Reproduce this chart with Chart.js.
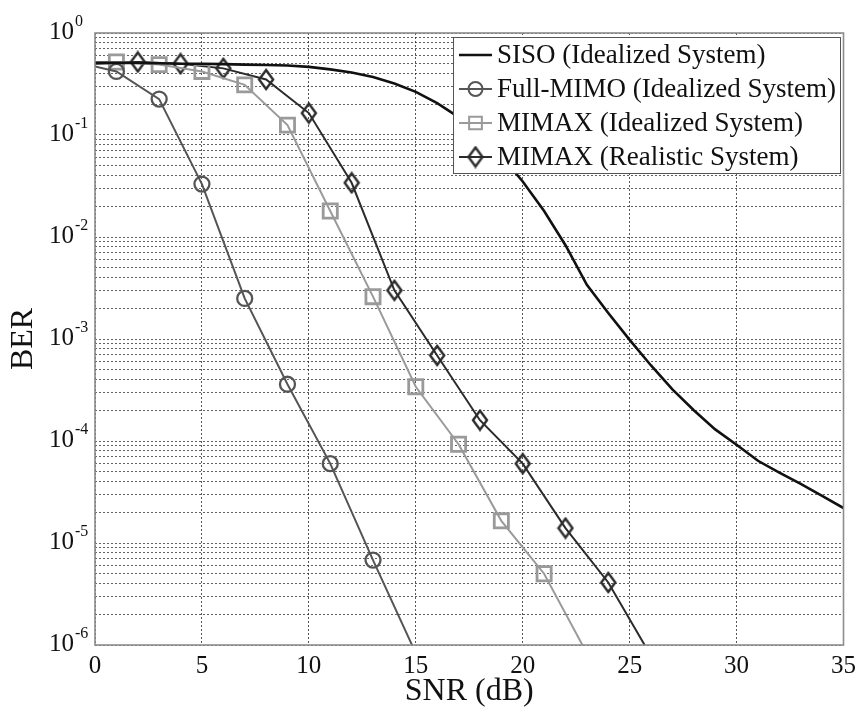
<!DOCTYPE html>
<html>
<head>
<meta charset="utf-8">
<script src="https://cdn.jsdelivr.net/npm/chart.js@4.4.1/dist/chart.umd.min.js"></script>
<style>
  html, body { margin: 0; padding: 0; background: #fff; }
  #wrap { width: 862px; height: 709px; }
</style>
</head>
<body>
<div id="wrap"><canvas id="myChart" width="862" height="709"></canvas></div>
<script>
// values
var snrSiso = [0,1,2,3,4,5,6,7,8,9,10,11,12,13,14,15,16,17,18,19,20,21,22,23,24,25,26,27,28,29,30,31,32,33,34,35];
var berSiso = [0.51,0.51,0.51,0.505,0.5,0.5,0.495,0.49,0.485,0.48,0.465,0.44,0.41,0.37,0.32,0.265,0.205,0.15,0.1,0.062,
               0.035,0.018,0.0083,0.0034,0.0018,9.8e-4,5.5e-4,3.2e-4,2.0e-4,1.3e-4,9.2e-5,6.4e-5,4.9e-5,3.8e-5,2.9e-5,2.2e-5];

var snrMimo = [0,1,3,5,7,9,11,13,15];
var berMimo = [0.47,0.42,0.225,0.033,0.0025,3.6e-4,6.0e-5,6.8e-6,8.3e-7];

var snrIdeal = [0,1,3,5,7,9,11,13,15,17,19,21,23];
var berIdeal = [0.52,0.52,0.49,0.42,0.31,0.125,0.018,0.0026,3.4e-4,9.3e-5,1.65e-5,5.0e-6,8.3e-7];

var snrReal = [0,2,4,6,8,10,12,14,16,18,20,22,24,26];
var berReal = [0.5,0.52,0.5,0.45,0.35,0.164,0.034,0.003,6.9e-4,1.6e-4,6.0e-5,1.4e-5,4.1e-6,7.8e-7];

var seriesLabels = ['SISO (Idealized System)', 'Full-MIMO (Idealized System)', 'MIMAX (Idealized System)', 'MIMAX (Realistic System)'];
var xTicks = [0,5,10,15,20,25,30,35];
var decades = [-6,-5,-4,-3,-2,-1,0];

const FONT = 'Liberation Serif';

function pts(xs, ys) {
    return xs.map(function (x, i) { return {x: x, y: ys[i]}; });
}
// no marker on the first / last helper points
function radii(xs, r) {
    return xs.map(function (x, i) { return (i === 0 || i === xs.length - 1) ? 0 : r; });
}

// matlab style diamond, a bit taller than wide
function diamondImg(w, h, color, lw) {
    const c = document.createElement('canvas');
    c.width = w + 4; c.height = h + 4;
    const g = c.getContext('2d');
    const cx = c.width / 2, cy = c.height / 2;
    g.strokeStyle = color;
    g.lineWidth = lw;
    g.lineJoin = 'miter';
    g.beginPath();
    g.moveTo(cx, cy - h / 2);
    g.lineTo(cx + w / 2, cy);
    g.lineTo(cx, cy + h / 2);
    g.lineTo(cx - w / 2, cy);
    g.closePath();
    g.stroke();
    return c;
}
var diamond = diamondImg(14, 19, '#2b2b2b', 2.4);

// log grid: 1..9 times each decade
var yTickVals = [];
decades.forEach(function (d) {
    if (d === 0) { yTickVals.push(1); return; }
    for (var m = 1; m <= 9; m++) yTickVals.push(m * Math.pow(10, d));
});

const frameAndLegend = {
    id: 'frameAndLegend',
    afterDraw(chart) {
        const ctx = chart.ctx;
        const a = chart.chartArea;
        const ys = chart.scales.y;
        ctx.save();
        // box
        ctx.strokeStyle = '#8c8c8c';
        ctx.lineWidth = 1.6;
        ctx.strokeRect(a.left, a.top, a.right - a.left, a.bottom - a.top);

        // y tick labels 10^n
        decades.forEach(function (d) {
            const yy = ys.getPixelForValue(Math.pow(10, d));
            ctx.fillStyle = '#111';
            ctx.font = '25px "' + FONT + '"';
            ctx.textAlign = 'right';
            ctx.textBaseline = 'middle';
            ctx.fillText('10', 74, yy - 1);
            ctx.font = '16px "' + FONT + '"';
            ctx.textAlign = 'left';
            ctx.fillText(String(d), 75, yy - 11);
        });

        // legend
        const lx = 453, ly = 37, lw = 387, lh = 136;
        ctx.fillStyle = '#fff';
        ctx.fillRect(lx, ly, lw, lh);
        ctx.strokeStyle = '#555';
        ctx.lineWidth = 1;
        ctx.strokeRect(lx + 0.5, ly + 0.5, lw, lh);
        chart.data.datasets.forEach(function (ds, i) {
            const cy = 55 + i * 34;
            ctx.strokeStyle = ds.borderColor;
            ctx.lineWidth = ds.borderWidth;
            ctx.setLineDash([]);
            ctx.beginPath();
            ctx.moveTo(459, cy);
            ctx.lineTo(492, cy);
            ctx.stroke();
            if (ds.legendPoint) {
                ctx.fillStyle = 'rgba(0,0,0,0)';
                ctx.strokeStyle = ds.borderColor;
                Chart.helpers.drawPoint(ctx, {
                    pointStyle: ds.pointStyle, radius: ds.legendPoint,
                    rotation: 0, borderWidth: ds.pointBorderWidth
                }, 475.5, cy);
            }
            ctx.fillStyle = '#111';
            ctx.font = '27px "' + FONT + '"';
            ctx.textAlign = 'left';
            ctx.textBaseline = 'middle';
            ctx.fillText(ds.label, 497, cy + 1);
        });
        ctx.restore();
    }
};

const ctx = document.getElementById('myChart').getContext('2d');
var myChart = new Chart(ctx, {
    type: 'line',
    data: {
        datasets: [{
            label: seriesLabels[0],
            data: pts(snrSiso, berSiso),
            borderColor: '#111',
            borderWidth: 2.6,
            pointRadius: 0
        }, {
            label: seriesLabels[1],
            data: pts(snrMimo, berMimo),
            borderColor: '#555',
            borderWidth: 2,
            pointStyle: 'circle',
            pointRadius: radii(snrMimo, 7.5),
            pointBorderWidth: 2.3,
            pointBackgroundColor: 'rgba(0,0,0,0)',
            pointBorderColor: '#555',
            legendPoint: 7
        }, {
            label: seriesLabels[2],
            data: pts(snrIdeal, berIdeal),
            borderColor: '#9a9a9a',
            borderWidth: 2,
            pointStyle: 'rect',
            pointRadius: radii(snrIdeal, 10),
            pointBorderWidth: 2.8,
            pointBackgroundColor: 'rgba(0,0,0,0)',
            pointBorderColor: '#9a9a9a',
            legendPoint: 9
        }, {
            label: seriesLabels[3],
            data: pts(snrReal, berReal),
            borderColor: '#2b2b2b',
            borderWidth: 2,
            pointStyle: diamond,
            pointRadius: radii(snrReal, 9),
            pointBorderWidth: 2.4,
            pointBackgroundColor: 'rgba(0,0,0,0)',
            pointBorderColor: '#2b2b2b',
            legendPoint: 9
        }]
    },
    options: {
        responsive: false,
        animation: false,
        layout: { padding: { left: 0, right: 17, top: 33, bottom: 0 } },
        plugins: {
            legend: { display: false },
            tooltip: { enabled: false }
        },
        elements: { line: { tension: 0 } },
        scales: {
            x: {
                type: 'linear',
                min: 0,
                max: 35,
                afterBuildTicks: function (axis) {
                    axis.ticks = xTicks.map(function (v) { return {value: v}; });
                },
                afterFit: function (axis) { axis.height = 64; },
                grid: { color: 'rgba(30,30,30,0.75)', lineWidth: 1, drawTicks: false },
                border: { display: false, dash: [2, 2] },
                ticks: {
                    padding: 6,
                    color: '#111',
                    font: { family: FONT, size: 25 },
                    maxRotation: 0
                },
                title: {
                    display: true,
                    text: 'SNR (dB)',
                    color: '#111',
                    font: { family: FONT, size: 32 },
                    padding: { top: 0, bottom: -2 }
                }
            },
            y: {
                type: 'logarithmic',
                min: 1e-6,
                max: 1,
                afterBuildTicks: function (axis) {
                    axis.ticks = yTickVals.map(function (v) { return {value: v}; });
                },
                afterFit: function (axis) { axis.width = 95; },
                grid: { color: 'rgba(30,30,30,0.7)', lineWidth: 1, drawTicks: false },
                border: { display: false, dash: [2, 2] },
                ticks: { display: false },
                title: {
                    display: true,
                    text: 'BER',
                    color: '#111',
                    font: { family: FONT, size: 32 },
                    padding: { top: 4, bottom: 0 }
                }
            }
        }
    },
    plugins: [frameAndLegend]
});
</script>
</body>
</html>
